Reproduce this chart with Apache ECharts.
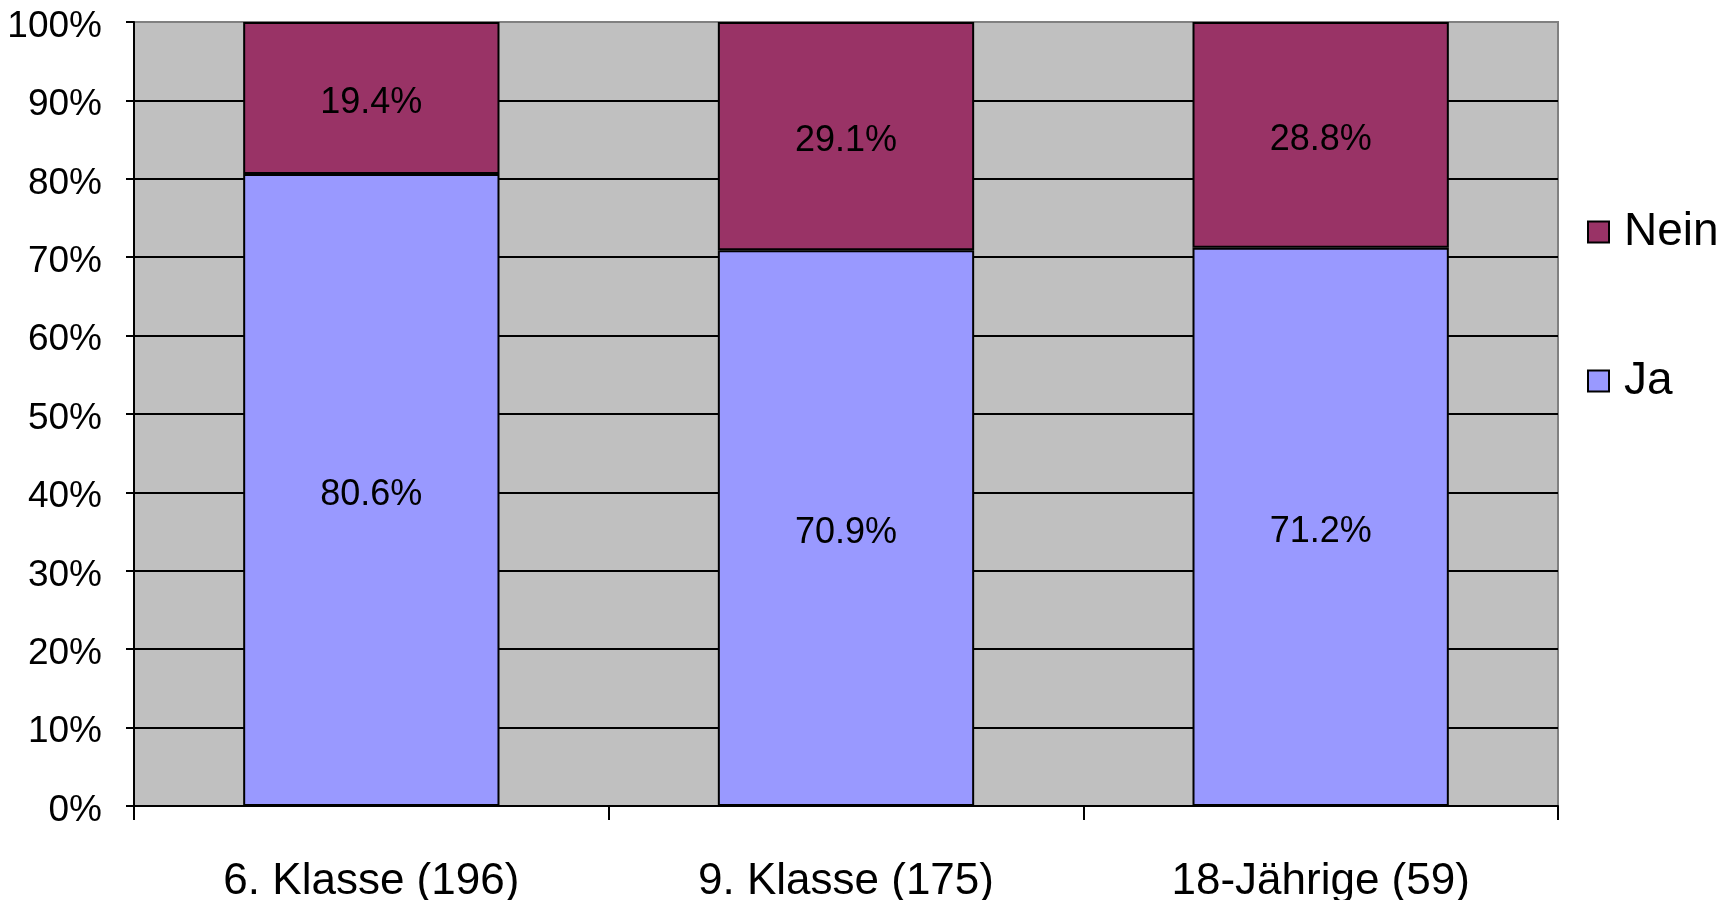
<!DOCTYPE html>
<html>
<head>
<meta charset="utf-8">
<script src="https://cdn.jsdelivr.net/npm/echarts@6/dist/echarts.min.js"></script>
<style>
  html, body { margin: 0; padding: 0; background: #fff; }
  #chart { width: 1735px; height: 900px; }
</style>
</head>
<body>
<div id="chart"></div>
<script>
// categories and values (percent)
const categories = ['6. Klasse (196)', '9. Klasse (175)', '18-Jährige (59)']
const jaValues = [80.6, 70.9, 71.2]
const neinValues = [19.4, 29.1, 28.8]
const yTicks = [0, 10, 20, 30, 40, 50, 60, 70, 80, 90, 100]

const font = 'Liberation Sans, Arial, sans-serif'
const myChart = echarts.init(document.getElementById('chart'))

// gridline colours: black except the top border line (grey)
const splitColors = yTicks.map((t) => (t === 100 ? '#808080' : '#000'))

const pctLabel = {
  show: true,
  position: 'inside',
  offset: [0, 5],
  color: '#000',
  fontFamily: font,
  fontSize: 36,
  formatter: (p) => p.value.toFixed(1) + '%'
}

myChart.setOption({
  animation: false,
  textStyle: { fontFamily: font },
  grid: {
    left: 134,
    right: 177,
    top: 22,
    bottom: 94,
    outerBoundsMode: 'none',
    show: true,
    backgroundColor: '#c0c0c0',
    borderColor: '#808080',
    borderWidth: 2
  },
  legend: {
    orient: 'vertical',
    left: 1582,
    top: 204,
    icon: 'rect',
    itemWidth: 21,
    itemHeight: 21,
    itemGap: 103,
    itemTextGap: 22,
    data: ['Nein', 'Ja'],
    textStyle: { fontSize: 46, color: '#000', fontFamily: font, padding: [0, 0, 0, 10] }
  },
  xAxis: {
    type: 'category',
    data: categories,
    axisLine: { lineStyle: { color: '#000', width: 2 } },
    axisTick: { show: true, interval: 0, length: 14, lineStyle: { color: '#000', width: 2 } },
    axisLabel: { color: '#000', fontSize: 44, margin: 54, fontFamily: font },
    splitLine: { show: false }
  },
  yAxis: {
    type: 'value',
    min: 0,
    max: 100,
    interval: 10,
    axisLine: { show: true, lineStyle: { color: '#000', width: 2 } },
    axisTick: { show: true, length: 8, lineStyle: { color: '#000', width: 2 } },
    axisLabel: {
      color: '#000',
      fontSize: 37,
      margin: 32,
      verticalAlign: 'top',
      lineHeight: 9,
      fontFamily: font,
      formatter: '{value}%'
    },
    splitLine: { show: true, lineStyle: { color: splitColors, width: 2 } }
  },
  series: [
    {
      name: 'Ja',
      type: 'bar',
      stack: 'total',
      barCategoryGap: '46%',
      data: jaValues,
      itemStyle: { color: '#9999ff', borderColor: '#000', borderWidth: 2 },
      label: pctLabel
    },
    {
      name: 'Nein',
      type: 'bar',
      stack: 'total',
      data: neinValues,
      itemStyle: { color: '#993366', borderColor: '#000', borderWidth: 2 },
      label: pctLabel
    }
  ]
})
</script>
</body>
</html>
